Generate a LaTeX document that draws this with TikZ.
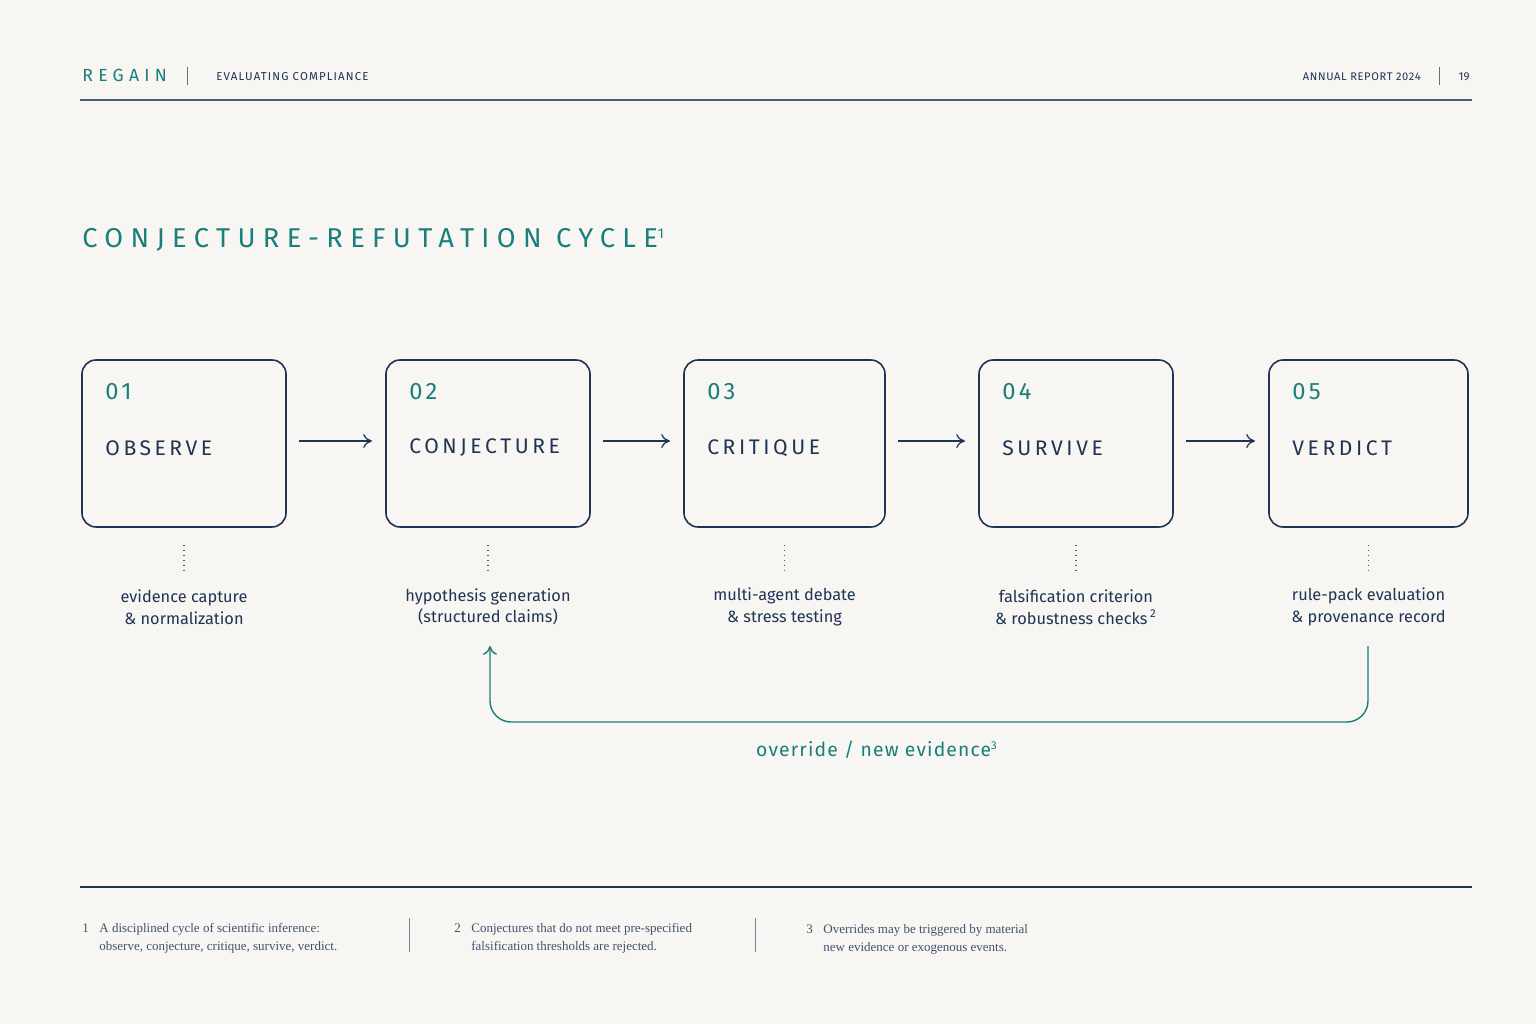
\documentclass[tikz,border=0pt]{standalone}
\usepackage{fontspec}
\setmainfont{Fira Sans}
\newfontfamily\notefont{Liberation Serif}
\usetikzlibrary{arrows.meta,positioning}
\definecolor{teal}{HTML}{1A7F7A}
\definecolor{navy}{HTML}{1F3355}
\definecolor{paper}{HTML}{F8F6F3}
\begin{document}
\begin{tikzpicture}[x=0.02cm,y=-0.02cm,
    num/.style={anchor=west,text=teal,font=\fontsize{13.5}{16}\selectfont},
    ttl/.style={anchor=west,text=navy,font=\fontsize{12}{15}\selectfont},
    desc/.style={text=navy,align=center,font=\fontsize{9.3}{12.3}\selectfont},
    note/.style={anchor=north west,text=navy!85,inner sep=0pt,font=\notefont\fontsize{7.4}{10.5}\selectfont},
    flow/.style={-{To[length=5pt,width=8pt]},navy,line width=0.7pt}]
  \fill[paper] (0,0) rectangle (1536,1024);
  % header
  \node[anchor=west,inner sep=0pt,text=teal,font=\fontsize{10}{12}\selectfont] (brand) at (82,75) {{\addfontfeature{LetterSpace=30}REGAIN}};
  \draw[navy!70] (187,67) -- (187,85);
  \node[anchor=west,inner sep=0pt,text=navy,font=\fontsize{6.5}{9}\selectfont] (sect) at (216,77) {{\addfontfeature{LetterSpace=10}EVALUATING COMPLIANCE}};
  \node[anchor=east,inner sep=0pt,text=navy,font=\fontsize{6.3}{9}\selectfont] (rep) at (1421,77) {{\addfontfeature{LetterSpace=6}ANNUAL REPORT 2024}};
  \draw[navy!70] (1439,67) -- (1439,85);
  \node[anchor=east,inner sep=0pt,text=navy,font=\fontsize{6.5}{9}\selectfont] (page) at (1470,77) {19};
  \draw[navy!80,line width=0.8pt] (80,100) -- (1472,100);
  % title
  \node[anchor=west,inner sep=0pt,text=teal,font=\fontsize{15.5}{19}\selectfont] (title) at (82,240) {{\addfontfeature{LetterSpace=27}CONJECTURE-REFUTATION CYCLE}\textsuperscript{\fontsize{8}{9}\selectfont 1}};
  % stages
  \foreach \n/\xl/\xr/\t/\d in {1/82/286/OBSERVE/{evidence capture\\\& normalization},
      2/386/590/CONJECTURE/{hypothesis generation\\(structured claims)},
      3/684/885/CRITIQUE/{multi-agent debate\\\& stress testing},
      4/979/1173/SURVIVE/{falsification criterion\\\& robustness checks\,\textsuperscript{2}},
      5/1269/1468/VERDICT/{rule-pack evaluation\\\& provenance record}}
  {
    \draw[navy,line width=0.9pt,rounded corners=8pt] (\xl,360) rectangle (\xr,527);
    \coordinate (b\n w) at (\xl-14,441);
    \coordinate (b\n e) at (\xr+13,441);
    \node[num,inner sep=0pt] (n\n) at (\xl+23,392) {{\addfontfeature{LetterSpace=14}0\n}};
    \node[ttl,inner sep=0pt] (t\n) at (\xl+23,448) {{\addfontfeature{LetterSpace=17}\t}};
    \coordinate (top\n) at ({(\xl+\xr)/2},545);
    \coordinate (bot\n) at ({(\xl+\xr)/2},572);
    \draw[navy!80,dotted,line width=0.8pt] (top\n) -- (bot\n);
    \node[desc] (d\n) at ({(\xl+\xr)/2},607) {\d};
  }
  \foreach \a/\b in {1/2,2/3,3/4,4/5}
    \draw[flow] (b\a e) -- (b\b w);
  % feedback
  \coordinate (fbs) at (1368,646);
  \coordinate (fbe) at (490,646);
  \draw[teal,line width=0.8pt,rounded corners=12pt,-{To[length=5pt,width=8pt]}] (fbs) -- (1368,722) -- (490,722) -- (fbe);
  \node[text=teal,font=\fontsize{11}{14}\selectfont] (fbl) at (877,750) {{\addfontfeature{LetterSpace=6}override / new evidence}\textsuperscript{\fontsize{6.5}{8}\selectfont 3}};
  % footnotes
  \draw[navy,line width=0.8pt] (80,887) -- (1472,887);
  \draw[navy!60] (409,918) -- (409,952);
  \draw[navy!60] (755,918) -- (755,952);
  \node[note] (f1) at (82,919) {\begin{tabular}{@{}l@{\hspace{6pt}}l@{}}1&A disciplined cycle of scientific inference:\\&observe, conjecture, critique, survive, verdict.\end{tabular}};
  \node[note] (f2) at (454,919) {\begin{tabular}{@{}l@{\hspace{6pt}}l@{}}2&Conjectures that do not meet pre-specified\\&falsification thresholds are rejected.\end{tabular}};
  \node[note] (f3) at (806,920) {\begin{tabular}{@{}l@{\hspace{6pt}}l@{}}3&Overrides may be triggered by material\\&new evidence or exogenous events.\end{tabular}};
\end{tikzpicture}
\end{document}
